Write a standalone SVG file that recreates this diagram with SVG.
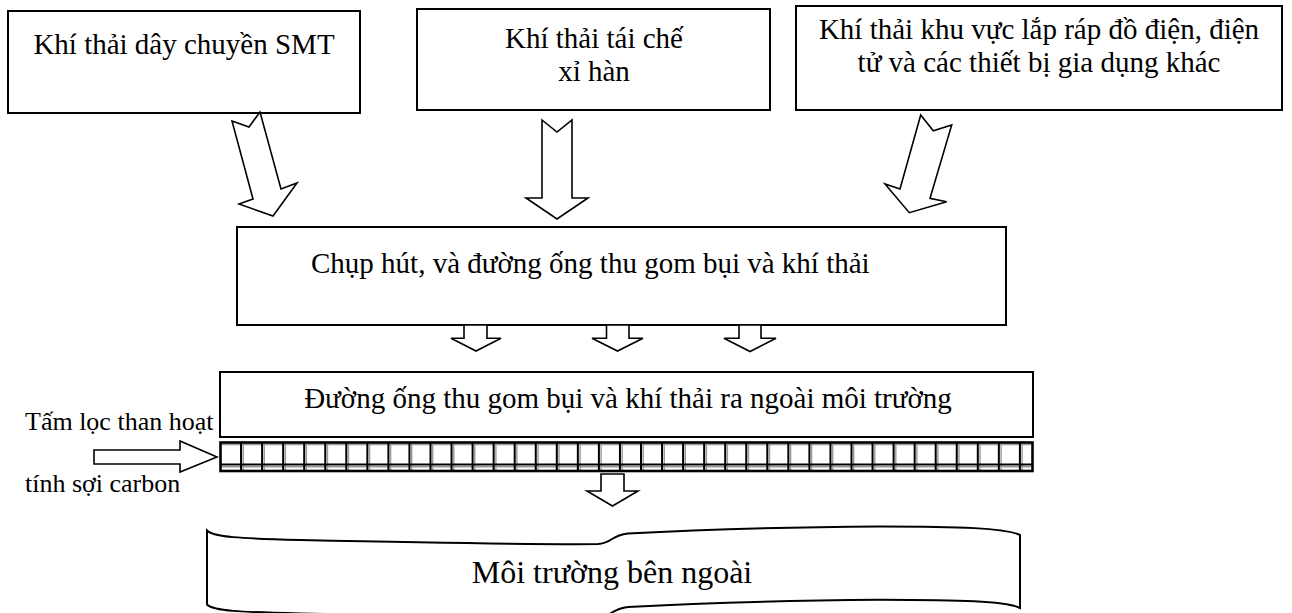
<svg xmlns="http://www.w3.org/2000/svg" width="1292" height="613" viewBox="0 0 1292 613">
  <style>
    .box { fill: #ffffff; stroke: #000000; stroke-width: 2; }
    .arrow { fill: #ffffff; stroke: #000000; stroke-width: 1.6; stroke-linejoin: miter; }
    .txt { font-family: "Liberation Serif", "Times New Roman", serif; fill: #000000; }
    .t29 { font-size: 29px; text-anchor: middle; }
    .t29l { font-size: 29px; }
    .t32 { font-size: 32px; text-anchor: middle; }
    .lbl { font-size: 26px; }
    .grid { stroke: #000000; stroke-width: 2; fill: none; }
    .shade { stroke: #9a9a9a; stroke-width: 1.4; fill: none; }
  </style>

  <rect width="1292" height="613" fill="#ffffff"/>

  <!-- source boxes -->
  <g id="smt-line">
    <rect class="box" x="8" y="11" width="352" height="102"/>
    <text class="txt t29" x="184" y="54">Khí thải dây chuyền SMT</text>
  </g>

  <g id="solder-recycling">
    <rect class="box" x="417" y="9" width="353" height="101"/>
    <text class="txt t29" x="594" y="48">Khí thải tái chế</text>
    <text class="txt t29" x="594" y="81">xỉ hàn</text>
  </g>

  <g id="assembly-area">
    <rect class="box" x="796" y="6" width="486" height="104"/>
    <text class="txt t29" x="1039" y="39">Khí thải khu vực lắp ráp đồ điện, điện</text>
    <text class="txt t29" x="1039" y="72">tử và các thiết bị gia dụng khác</text>
  </g>

  <!-- collection hood and ducting -->
  <g id="hood">
    <rect class="box" x="237" y="227" width="769" height="98"/>
    <text class="txt t29l" x="311" y="273">Chụp hút, và đường ống thu gom bụi và khí thải</text>
  </g>

  <!-- exhaust duct -->
  <g id="exhaust-duct">
    <rect class="box" x="220" y="372" width="813" height="65"/>
    <text class="txt t29" x="628" y="408">Đường ống thu gom bụi và khí thải ra ngoài môi trường</text>
  </g>

  <!-- activated carbon fibre filter plate -->
  <g id="carbon-filter">
    <rect x="220" y="442" width="813" height="29" fill="#ffffff" stroke="none"/>
    <path class="shade" d="M222 444.5H1031 M222 466.8H1031
      M243.3 444V470 M264.3 444V470 M285.4 444V470 M306.4 444V470 M327.5 444V470 M348.5 444V470
      M369.6 444V470 M390.6 444V470 M411.7 444V470 M432.7 444V470 M453.8 444V470 M474.8 444V470
      M495.9 444V470 M516.9 444V470 M538 444V470 M559 444V470 M580.1 444V470 M601.1 444V470
      M622.2 444V470 M643.2 444V470 M664.3 444V470 M685.3 444V470 M706.4 444V470 M727.4 444V470
      M748.5 444V470 M769.5 444V470 M790.6 444V470 M811.6 444V470 M832.7 444V470 M853.7 444V470
      M874.8 444V470 M895.8 444V470 M916.9 444V470 M937.9 444V470 M959 444V470 M980 444V470
      M1001.1 444V470 M1022.1 444V470"/>
    <path class="grid" d="M220 464.5H1033
      M241.05 442V471 M262.1 442V471 M283.15 442V471 M304.2 442V471 M325.25 442V471 M346.3 442V471
      M367.35 442V471 M388.4 442V471 M409.45 442V471 M430.5 442V471 M451.55 442V471 M472.6 442V471
      M493.65 442V471 M514.7 442V471 M535.75 442V471 M556.8 442V471 M577.85 442V471 M598.9 442V471
      M619.95 442V471 M641 442V471 M662.05 442V471 M683.1 442V471 M704.15 442V471 M725.2 442V471
      M746.25 442V471 M767.3 442V471 M788.35 442V471 M809.4 442V471 M830.45 442V471 M851.5 442V471
      M872.55 442V471 M893.6 442V471 M914.65 442V471 M935.7 442V471 M956.75 442V471 M977.8 442V471
      M998.85 442V471 M1019.9 442V471"/>
    <rect x="220.5" y="442.5" width="812" height="28.5" fill="none" stroke="#000000" stroke-width="2.6"/>
  </g>

  <!-- filter labels -->
  <g id="filter-label">
    <text class="txt lbl" x="25" y="430">Tấm lọc than hoạt</text>
    <text class="txt lbl" x="25" y="492">tính sợi carbon</text>
  </g>

  <!-- outside environment (wave banner) -->
  <g id="environment">
    <path class="box" d="M207 530.5
      C213 537 240 538.5 300 540 C420 542.5 560 544.5 598 544 C612 543.5 610 535.5 628 533.5
      C700 529.5 800 527 880 526.5 C960 526.5 1005 528 1020 535
      V608
      C1005 601 960 600 880 599.8 C800 600.5 700 603 628 607
      C610 609 612 617 598 617.5 C560 618 420 616 300 613.5 C240 612 213 611 207 604.5 Z"/>
    <text class="txt t32" x="612" y="583">Môi trường bên ngoài</text>
  </g>

  <!-- block-arrow connectors -->
  <g id="connectors">
    <polygon class="arrow" points="232,121 249,127 260,112 281,189 297,183 273,216 239,204 253,199"/>
    <polygon class="arrow" points="542,120 557,132 572,120 572,198 588,198 557,219 526,198 542,198"/>
    <polygon class="arrow" points="920.7,115 933.3,130.7 951.7,125 930,198.3 946.7,201.7 909.3,212.7 885,184 900,189"/>

    <polygon class="arrow" points="464,325 487,325 487,338.3 501,338.3 476,351 451,338.3 464,338.3"/>
    <polygon class="arrow" points="606.5,325 629,325 629,338.3 643,338.3 617.5,351 592,338.3 606.5,338.3"/>
    <polygon class="arrow" points="739,325 761,325 761,338.3 776,338.3 750,351.5 724,338.3 739,338.3"/>

    <polygon class="arrow" points="94,450 180,450 180,441 217,457 180,472 180,464 94,464"/>

    <polygon class="arrow" points="601,474 624,474 624,491 638,491 612.5,506 587,491 601,491"/>
  </g>
</svg>
